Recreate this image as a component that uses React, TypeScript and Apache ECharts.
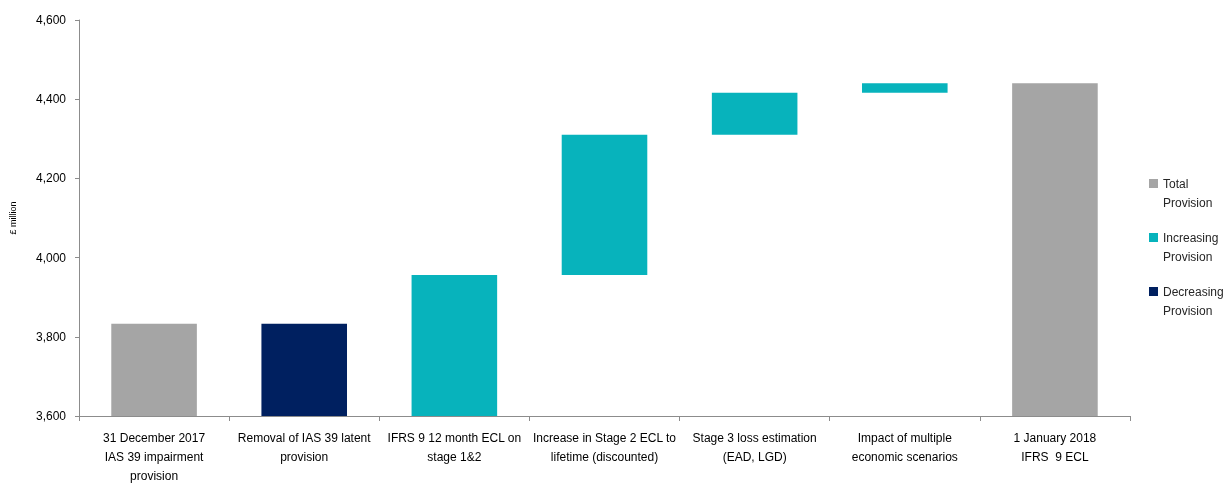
import React, { useEffect, useRef } from "react";
import * as echarts from "echarts";

const categories = [
  "31 December 2017\nIAS 39 impairment\nprovision",
  "Removal of IAS 39 latent\nprovision",
  "IFRS 9 12 month ECL on\nstage 1&2",
  "Increase in Stage 2 ECL to\nlifetime (discounted)",
  "Stage 3 loss estimation\n(EAD, LGD)",
  "Impact of multiple\neconomic scenarios",
  "1 January 2018\nIFRS  9 ECL",
];
// opening total, movements, closing total (£ million, estimated)
const openingTotal = 3833;
const movements = [-233, 356, 354, 106, 24];
const yTicks = [3600, 3800, 4000, 4200, 4400, 4600];
const legendNames = ["Total\nProvision", "Increasing\nProvision", "Decreasing\nProvision"];

const GRAY = "#A5A5A5";
const TEAL = "#07B3BC";
const NAVY = "#002060";

function buildSeries() {
  const base: (number | string)[] = [0];
  const total: (number | string)[] = [openingTotal];
  const inc: (number | string)[] = ["-"];
  const dec: (number | string)[] = ["-"];
  let running = openingTotal;
  movements.forEach((m) => {
    const next = running + m;
    base.push(Math.min(running, next));
    total.push("-");
    if (m >= 0) {
      inc.push(m);
      dec.push("-");
    } else {
      inc.push("-");
      dec.push(-m);
    }
    running = next;
  });
  base.push(0);
  total.push(running);
  inc.push("-");
  dec.push("-");
  return { base, total, inc, dec };
}

export default function App() {
  const ref = useRef<HTMLDivElement>(null);
  useEffect(() => {
    if (!ref.current) return;
    const chart = echarts.init(ref.current, null, { renderer: "svg" });
    const { base, total, inc, dec } = buildSeries();
    const font = "Liberation Sans";
    chart.setOption({
      animation: false,
      textStyle: { fontFamily: font },
      grid: {
        left: 79,
        right: 97,
        top: 20,
        bottom: 70,
        containLabel: false,
        outerBoundsMode: "none",
      },
      legend: {
        orient: "vertical",
        left: 1149,
        top: 155,
        padding: 0,
        itemWidth: 9,
        itemHeight: 9,
        itemGap: -3,
        icon: "rect",
        data: legendNames,
        formatter: (name: string) => " \n" + name,
        textStyle: {
          fontFamily: font,
          fontSize: 12,
          color: "#262626",
          lineHeight: 19,
          width: 70,
          overflow: "none",
        },
        itemStyle: { borderWidth: 0 },
        selectedMode: false,
      },
      xAxis: {
        type: "category",
        data: categories,
        axisLine: { lineStyle: { color: "#8c8c8c", width: 1 } },
        axisTick: { show: true, alignWithLabel: false, length: 5, lineStyle: { color: "#8c8c8c" } },
        axisLabel: {
          interval: 0,
          fontFamily: font,
          fontSize: 12,
          color: "#000",
          lineHeight: 19,
          margin: 12,
        },
      },
      yAxis: {
        type: "value",
        min: 3600,
        max: 4600,
        interval: 200,
        name: "£ million",
        nameLocation: "middle",
        nameGap: 62,
        nameTextStyle: { fontFamily: font, fontSize: 9, color: "#000" },
        splitLine: { show: false },
        axisLine: { show: true, lineStyle: { color: "#8c8c8c" } },
        axisTick: { show: true, length: 4, inside: false, lineStyle: { color: "#8c8c8c" } },
        axisLabel: {
          fontFamily: font,
          fontSize: 12,
          color: "#000",
          margin: 13,
          formatter: (v: number) => (yTicks.includes(v) ? v.toLocaleString("en-US") : ""),
        },
      },
      series: [
        {
          name: "base",
          type: "bar",
          stack: "w",
          data: base,
          itemStyle: { color: "transparent" },
          barCategoryGap: "43%",
          silent: true,
        },
        {
          name: legendNames[0],
          type: "bar",
          stack: "w",
          data: total,
          itemStyle: { color: GRAY },
        },
        {
          name: legendNames[1],
          type: "bar",
          stack: "w",
          data: inc,
          itemStyle: { color: TEAL },
        },
        {
          name: legendNames[2],
          type: "bar",
          stack: "w",
          data: dec,
          itemStyle: { color: NAVY },
        },
      ],
    });
    return () => chart.dispose();
  }, []);
  return (
    <div
      ref={ref}
      style={{ position: "fixed", left: 0, top: 0, width: 1227, height: 486 }}
    />
  );
}
